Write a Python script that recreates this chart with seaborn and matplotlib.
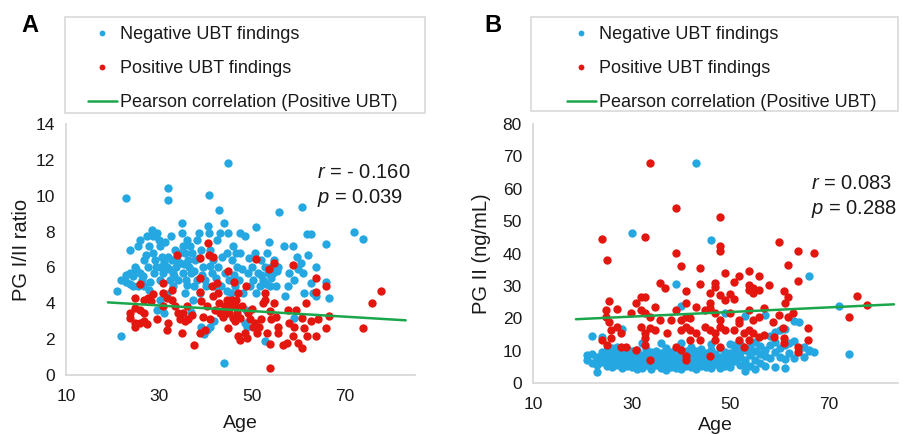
import numpy as np
import pandas as pd
import matplotlib
matplotlib.use("Agg")
import matplotlib.pyplot as plt
from matplotlib.lines import Line2D
from matplotlib.patches import Rectangle
import seaborn as sns

# ---------------- data ----------------
legend_labels = ["Negative UBT findings", "Positive UBT findings", "Pearson correlation (Positive UBT)"]

# Panel A: PG I/II ratio vs Age
a_neg = [(20.9,4.7),(21.8,5.3),(21.8,2.2),(22.8,9.85),(22.8,5.2),(22.8,5.6),(23.8,7.0),(23.8,5.7),(23.8,5.1),
         (24.5,5.5),(24.5,4.95),(24.9,6.05),(25.4,7.2),(25.4,4.95),(25.8,5.7),(26,7.55),(26.3,5.3),(26.8,6.4),
         (26.8,4.95),(27.4,7.75),(27.7,6.05),(27.9,7.2),(27.9,4.75),(28.4,8.1),(28.8,7.75),(28.8,6.8),(28.9,5.7),
         (29.1,6.4),(29.5,7.9),(29.9,7.55),(30.1,7.2),(30.1,6.05),(30.1,5.3),(30.2,4.2),(30.6,6.6),(30.8,3.85),
         (30.9,5.7),(31.1,3.45),(31.3,7.4),(31.6,6.05),(31.9,10.45),(31.9,9.74),(32,6.6),(32.4,5.3),(32.5,7.75),
         (32.7,6.4),(32.9,5.7),(33.1,4.95),(33.4,7.0),(33.6,6.05),(33.8,6.4),(34.1,5.3),(34.5,6.25),(34.9,8.5),
         (34.9,7.9),(35.1,7.2),(35.2,5.7),(35.6,6.8),(35.8,5.3),(35.9,7.55),(36.3,6.4),(36.5,6.05),(36.6,7.2),
         (36.8,5.7),(37,6.8),(37.2,4.2),(37.4,4.95),(37.7,6.4),(38.1,7.55),(38.2,5.3),(38.6,7.9),(38.8,4.55),
         (39.1,7.0),(39.1,2.7),(39.5,6.05),(39.9,5.3),(40.1,4.95),(40.6,8.3),(40.8,10.06),(40.8,7.9),(40.9,7.0),
         (40.9,2.7),(41.3,5.7),(41.6,6.4),(42,4.95),(42.4,7.55),(42.7,6.05),(42.9,9.18),(43.1,7.9),(43.4,4.95),
         (43.9,8.5),(43.9,0.65),(44.1,5.7),(44.5,6.8),(44.8,11.8),(44.9,7.9),(45.1,5.3),(45.4,4.55),(45.6,6.4),
         (45.9,7.2),(46.3,4.95),(46.6,6.8),(46.8,6.05),(47.2,5.3),(47.4,7.9),(47.5,6.8),(48.1,4.55),(48.4,7.75),
         (48.8,2.7),(49.1,5.7),(49.5,4.95),(49.9,6.05),(50.2,5.3),(50.6,6.8),(50.9,8.25),(51.3,5.7),(51.6,4.95),
         (52,6.4),(52.4,5.3),(52.7,6.05),(52.7,1.87),(53.1,6.8),(53.4,5.7),(53.6,7.4),(53.8,4.95),(54.1,6.05),
         (54.5,5.7),(54.6,6.4),(55.1,4.95),(55.8,9.07),(55.6,6.05),(56.8,7.2),(57,4.4),(57.7,4.95),(58,5.7),
         (58.8,7.2),(59,5.3),(59,3.2),(59.6,6.6),(59.9,5.9),(60.6,6.25),(60.8,9.35),(60.9,5.7),(61.1,4.55),
         (61.8,7.85),(62,6.7),(62.7,7.85),(62.7,5.15),(63.1,4.55),(63.8,6.05),(63.8,4.4),(65.8,7.33),(65.8,5.2),
         (66.6,4.3),(71.8,7.95),(73.9,7.6),(29.5,3.65),(40.2,2.5),(39.6,2.3),
         (25,5.9),(26.5,5.5),(27.2,6.7),(28,5.2),(29.3,6.0),(31.0,6.3),(32.2,5.9),(33.3,5.5),(34.3,6.8),
         (35.4,6.2),(36.0,5.0),(37.5,5.8),(38.5,6.5),(39.3,5.6),(41.0,6.1),(42.2,5.4),(43.6,6.6),(44.6,4.7),
         (46.0,5.6),(47.8,5.9),(49.3,6.5),(50.8,4.6),(51.9,5.6),(53.0,5.1),(54.0,5.4),(55.3,5.8),(48.6,3.6),
         (44.2,3.4),(41.8,3.0),(35.5,4.6),(31.8,4.5),(36.9,3.5),(48.5,2.9)]
a_pos = [(23.8,3.45),(23.8,3.2),(24.9,4.3),(24.9,3.75),(24.9,2.9),(24.9,2.7),(25.8,5.05),(25.8,3.65),(25.8,2.9),
         (26.8,4.2),(26.8,3.45),(26.8,3.0),(27.7,4.3),(28.8,4.5),(29.5,3.1),(30.8,5.15),(30.8,4.6),(30.9,3.85),
         (31.6,4.3),(31.8,2.5),(32,2.9),(32.7,4.75),(32.7,4.2),(33.4,3.85),(33.8,6.7),(34.1,3.45),(34.5,3.1),
         (34.9,2.35),(35.2,3.45),(35.9,3.85),(36.3,3.1),(37,3.35),(37.6,1.68),(38.8,5.4),(38.8,6.5),(38.8,4.65),
         (38.8,2.35),(39.1,4.1),(39.5,3.25),(39.9,2.5),(40.2,3.85),(40.6,7.35),(40.8,6.7),(40.9,3.1),(41.3,4.95),
         (41.6,6.6),(41.6,4.4),(42,3.65),(42.5,5.15),(42.7,4.6),(42.9,4.0),(43.2,3.45),(43.8,3.25),(44.1,3.85),
         (44.5,4.2),(44.8,5.8),(44.9,2.6),(45.1,3.45),(45.4,3.85),(45.6,4.2),(45.9,3.2),(46.1,5.2),(46.3,3.85),
         (46.6,4.2),(46.8,3.45),(47,4.6),(47,2.15),(47.4,3.2),(47.5,1.95),(47.9,3.85),(48.4,2.35),(48.6,4.95),
         (48.8,2.05),(49.1,3.45),(49.6,3.1),(50.2,2.7),(50.6,2.9),(50.9,6.45),(51.1,2.35),(51.5,2.7),(52,3.1),
         (52.4,4.0),(52.7,4.6),(52.7,4.2),(53.1,2.35),(53.6,5.9),(53.8,3.55),(53.8,1.75),(53.8,0.37),(54.1,3.1),
         (54.6,6.25),(54.8,4.0),(55.1,3.25),(55.5,2.7),(55.6,2.35),(56.6,1.68),(57.5,1.77),(57.7,3.65),(58,2.9),
         (58.8,6.15),(58.8,2.15),(59.1,2.7),(59.5,3.65),(59.9,1.77),(60.8,3.2),(60.8,1.5),(61.1,2.6),(61.6,4.0),
         (61.8,2.2),(62.7,3.0),(63.8,5.4),(63.8,4.65),(63.8,2.15),(64.1,3.1),(65.8,4.95),(65.8,2.6),(66.6,3.3),
         (73.9,2.6),(75.8,4.0),(77.7,4.7),(27.3,2.85),(28.2,4.1),(35.6,3.0),(44.0,3.6),(46.4,3.0),(49.9,3.7)]
a_fit_age = [19, 83]
a_fit_ratio = [4.05, 3.05]

# Panel B: PG II vs Age
b_neg = [(21,8.5),(21,7.0),(22,6.3),(22,9.0),(22,14.6),(23,3.4),(23,7.5),(23,8.0),(23,5.6),
         (24,8.8),(24,6.4),(24,9.6),(24,14.3),(24,7.1),(25,5.2),(25,7.9),(25,10.2),(25,6.6),(25,8.4),
         (26,9.4),(26,6.0),(26,7.3),(26,4.8),(26,10.8),(27,7.7),(27,5.5),(27,8.9),(27,6.8),(27,11.1),
         (28,16.6),(28,6.2),(28,9.8),(28,4.6),(28,7.4),(28,8.6),(29,5.1),(29,7.0),(29,9.2),(29,6.4),(29,10.5),(29,8.0),
         (30,46.3),(30,4.9),(30,6.7),(30,8.3),(30,9.9),(30,7.5),(30,5.8),(31,6.1),(31,8.8),(31,4.4),(31,7.2),(31,10.3),(31,9.4),
         (32,12.4),(32,5.3),(32,7.9),(32,6.5),(32,8.6),(32,4.7),(33,9.1),(33,6.9),(33,5.6),(33,8.1),(33,7.4),(33,10.6),
         (34,4.2),(34,6.3),(34,7.8),(34,9.6),(34,5.1),(34,8.5),(35,7.1),(35,5.7),(35,8.9),(35,6.0),(35,10.0),
         (36,12.4),(36,4.5),(36,6.6),(36,8.2),(36,9.3),(36,7.4),(37,5.4),(37,7.7),(37,3.9),(37,9.0),(37,6.2),(37,10.8),
         (38,8.4),(38,6.8),(38,5.0),(38,7.3),(38,9.7),(39,30.6),(39,4.6),(39,6.1),(39,8.0),(39,10.4),(39,7.2),
         (40,23.9),(40,12.4),(40,5.5),(40,7.6),(40,9.1),(40,6.4),(40,4.3),(41,8.7),(41,6.0),(41,10.0),(41,5.2),(41,7.9),
         (42,4.8),(42,7.1),(42,9.4),(42,6.5),(42,11.2),(43,67.8),(43,5.9),(43,8.2),(43,6.8),(43,4.4),(43,9.8),
         (44,7.4),(44,5.3),(44,10.6),(44,8.9),(44,6.1),(45,6.7),(45,4.9),(45,9.3),(45,7.8),(45,5.6),
         (46,44.3),(46,12.2),(46,8.4),(46,6.2),(46,10.1),(46,4.6),(47,5.8),(47,7.3),(47,9.0),(47,6.5),
         (48,8.1),(48,4.7),(48,10.9),(48,7.0),(48,5.5),(49,21.5),(49,6.9),(49,9.6),(49,5.2),(49,8.3),
         (50,7.6),(50,12.2),(50,5.9),(50,9.2),(50,4.8),(51,10.4),(51,6.7),(51,8.8),(51,11.6),(51,7.4),
         (52,9.5),(52,5.6),(52,12.0),(52,8.1),(53,20.7),(53,3.6),(53,7.2),(53,10.3),(53,6.0),
         (54,8.6),(54,11.1),(54,5.3),(54,9.2),(55,7.0),(55,10.0),(55,4.4),(55,12.6),(56,9.1),(56,6.2),(56,11.4),
         (57,21.0),(57,5.4),(57,8.3),(57,10.2),(58,11.7),(58,14.5),(58,7.6),(59,15.6),(59,5.0),(59,12.8),(59,9.5),
         (60,8.0),(60,10.9),(60,16.4),(61,16.6),(61,7.5),(61,11.8),(61,4.5),(62,9.4),(62,12.3),
         (63,13.1),(63,19.2),(63,7.6),(64,18.9),(64,10.4),(65,7.9),(65,11.0),(66,33.2),(66,9.9),(66,10.2),
         (67,9.6),(72,23.9),(74,9.1)]
b_pos = [(33.8,68.1),(39,53.9),(47.9,51.4),(24,44.6),(32.8,45.2),(25,37.9),(39,40.3),(47.9,42.2),(47.9,40.7),
         (59.9,43.4),(63.8,40.9),(66.9,40.1),(40,36),(43.9,35.4),(48.9,34),(61.7,36.3),(53.8,34.6),(51.8,33.1),
         (55.8,32.9),(63.8,31.5),(35.8,30.8),(36.8,29.2),(43.9,30.5),(46.9,30.8),(46.9,29.8),(50.8,31.1),
         (53.8,30.3),(57.9,30.2),(60.9,28.4),(61.7,26.7),(75.6,26.8),(77.8,24.1),(25.5,25.2),(30.8,24.7),
         (31.8,26.5),(32.8,26.7),(34.8,23.4),(41,28.3),(41,24.6),(45.9,27.7),(45.9,24.6),(47.9,27.2),
         (48.9,25.7),(49.9,27.5),(50.8,26.1),(53.8,28.8),(54.6,29.3),(54.6,27.9),(55.8,28.8),(61,24.6),
         (24.8,22.6),(24.8,20.3),(27,22.9),(29.9,21.7),(31.8,22.6),(32.8,21.5),(33.8,20.5),(35.8,19.5),
         (37.9,19.5),(39,22.6),(40,19.5),(41,20.5),(41.9,20),(43,23.6),(44.9,22.6),(45.9,23.1),(46.9,21.5),
         (47.9,19.5),(49.9,21.5),(51.8,19.5),(53.8,22.6),(54.6,19.5),(55.8,20.5),(56.8,23.1),(58.7,18.9),
         (59.9,21),(61.7,20.3),(62.7,21.5),(74,20.4),(25.5,18.9),(25.9,16.4),(27,17.4),(27.8,15.3),(31.8,17.4),
         (32.8,15.3),(33.8,16.9),(34.8,16.4),(37.2,15.3),(40,16.4),(41,17.4),(41.9,16.4),(43,15.3),(44.9,17.4),
         (45.9,16.4),(46.9,15.3),(47.9,17.4),(48.9,16.4),(50.8,16.4),(51.8,18.4),(52.8,15.3),(53.8,16.4),
         (54.6,15.3),(55.8,14.3),(58.9,14.3),(60.7,16.9),(65.8,16.9),(24,13.3),(25,11.7),(25.9,13.8),(27.8,11.2),
         (28.8,11.2),(30.8,10.1),(32.8,13.8),(32.8,11.7),(33.8,7.2),(39,11.2),(40,10.1),(41,8.3),(41.9,13.3),
         (43.9,13.3),(45.9,8.3),(46.9,13.3),(47.9,11.2),(51.8,13.3),(52.8,11.2),(53.8,13.3),(56.8,14.8),
         (60.9,13.8),(60.9,12.4),(63.8,11.2),(63.8,9.6),(65.8,13.3),(41,7.0)]
b_fit_age = [18.7, 83.2]
b_fit_pg2 = [19.7, 24.3]

a_stats = ["$r$ = - 0.160", "$p$ = 0.039"]
b_stats = ["$r$ = 0.083", "$p$ = 0.288"]

# ---------------- style ----------------
sns.set_theme(style="white")
plt.rcParams['font.family'] = ['Liberation Sans', 'DejaVu Sans']
plt.rcParams['mathtext.fontset'] = 'custom'
plt.rcParams['mathtext.it'] = 'Liberation Sans:italic'
plt.rcParams['mathtext.rm'] = 'Liberation Sans'

BLUE = "#25a7e1"
RED = "#e3170f"
GREEN = "#1ca64c"
SPINE = "#d9d9d9"
TXT = "#1a1a1a"

fig = plt.figure(figsize=(9.04, 4.34), dpi=100)
W, H = 904, 434

def fig_rect(x0, y0, x1, y1):
    return [x0 / W, 1 - y1 / H, (x1 - x0) / W, (y1 - y0) / H]

axA = fig.add_axes(fig_rect(66, 124, 415, 375))
axB = fig.add_axes(fig_rect(533, 124, 898, 383))

def draw(ax, neg, pos, fit_x, fit_y, xlim, ylim, yticks, ylabel, stats, stats_xy, ylabelpad, xlabelpad):
    dn = pd.DataFrame(neg, columns=["age", "val"])
    dp = pd.DataFrame(pos, columns=["age", "val"])
    sns.scatterplot(data=dn, x="age", y="val", ax=ax, color=BLUE, s=36, linewidth=0, zorder=3, legend=False)
    sns.scatterplot(data=dp, x="age", y="val", ax=ax, color=RED, s=36, linewidth=0, zorder=4, legend=False)
    sns.lineplot(x=fit_x, y=fit_y, ax=ax, color=GREEN, lw=1.8, zorder=5)
    ax.set_xlim(*xlim)
    ax.set_ylim(*ylim)
    ax.set_xticks([10, 30, 50, 70])
    ax.set_yticks(yticks)
    ax.tick_params(axis="x", length=0, labelsize=12.5, labelcolor=TXT, pad=10)
    ax.tick_params(axis="y", length=0, labelsize=12.5, labelcolor=TXT, pad=8)
    for s in ["top", "right"]:
        ax.spines[s].set_visible(False)
    for s in ["left", "bottom"]:
        ax.spines[s].set_color(SPINE)
        ax.spines[s].set_linewidth(1.3)
    ax.set_xlabel("Age", fontsize=14, color=TXT, labelpad=xlabelpad)
    ax.set_ylabel(ylabel, fontsize=14.5, color=TXT, labelpad=ylabelpad)
    ax.text(stats_xy[0], stats_xy[1], stats[0], fontsize=14.5, color=TXT, va="center", ha="left")
    ax.text(stats_xy[0], stats_xy[2], stats[1], fontsize=14.5, color=TXT, va="center", ha="left")

draw(axA, a_neg, a_pos, a_fit_age, a_fit_ratio, (10, 85), (0, 14), list(range(0, 15, 2)),
     "PG I/II ratio", a_stats, (63.9, 11.3, 9.9), 3, 8)
draw(axB, b_neg, b_pos, b_fit_age, b_fit_pg2, (10, 84), (0, 80), list(range(0, 81, 10)),
     "PG II (ng/mL)", b_stats, (66.4, 61.5, 53.7), 8, 4)

# legends
handles = [
    Line2D([], [], marker='o', ls='none', color=BLUE, markersize=4.2, markeredgewidth=0),
    Line2D([], [], marker='o', ls='none', color=RED, markersize=4.2, markeredgewidth=0),
    Line2D([], [], color=GREEN, lw=1.8),
]

def add_legend(box, handle_x, top_y):
    x0, y0, x1, y1 = box
    fig.patches.append(Rectangle((x0 / W, 1 - y1 / H), (x1 - x0) / W, (y1 - y0) / H,
                                 transform=fig.transFigure, fill=False, edgecolor=SPINE, lw=1.2))
    fig.legend(handles, legend_labels, loc="upper left", bbox_to_anchor=(handle_x / W, 1 - top_y / H),
               frameon=False, fontsize=13, handlelength=1.6, handletextpad=0.2, labelspacing=0.95,
               borderpad=0, borderaxespad=0, labelcolor=TXT)

add_legend((65, 17, 425, 113), 88, 26)
add_legend((531, 17, 898, 111), 567, 26)

fig.text(30 / W, 1 - 25 / H, "A", fontsize=17, fontweight="bold", ha="center", va="center", color="black")
fig.text(493 / W, 1 - 25 / H, "B", fontsize=17, fontweight="bold", ha="center", va="center", color="black")

fig.savefig("out.png", dpi=100)
